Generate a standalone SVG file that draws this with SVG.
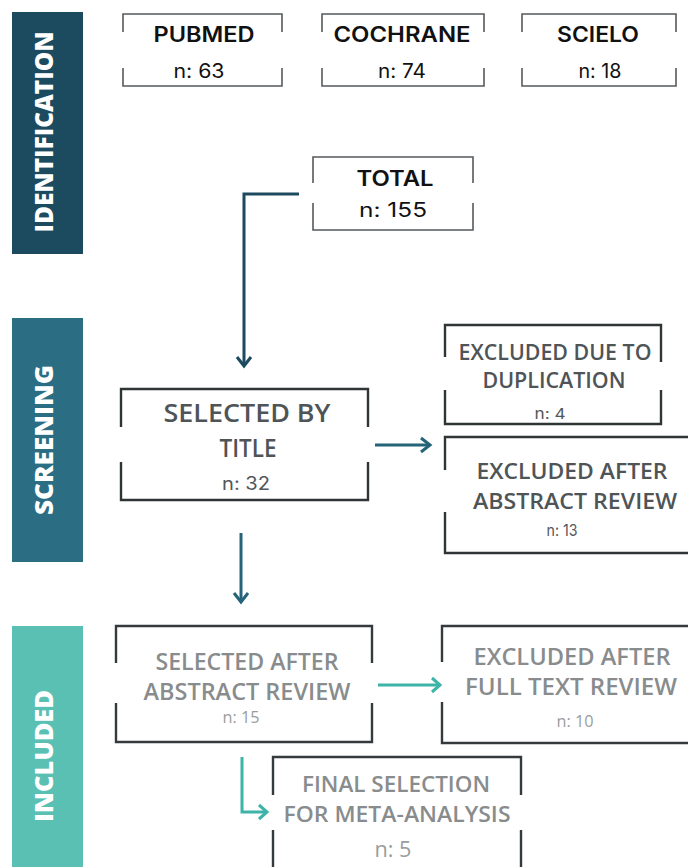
<svg xmlns="http://www.w3.org/2000/svg" width="688" height="867" viewBox="0 0 688 867">
<style>
.bar-label{font-family:"Open Sans","Noto Sans",sans-serif;font-weight:800;font-size:25px;fill:#ffffff;text-anchor:middle}
.top-box{fill:none;stroke:#555a5c;stroke-width:1.6}
.box{fill:none;stroke:#2f3436;stroke-width:2.4}
.box-inc{fill:none;stroke:#353a3c;stroke-width:2.4}
.t-top{font-family:Inter,"Noto Sans",sans-serif;font-weight:600;font-size:21px;fill:#111111;text-anchor:middle}
.n-top{font-family:Inter,"Noto Sans",sans-serif;font-weight:400;font-size:20px;fill:#111111;text-anchor:middle}
.t-scr{font-family:"Open Sans","Noto Sans",sans-serif;font-weight:600;fill:#4f5457;text-anchor:middle}
.n-scr{font-family:Inter,"Noto Sans",sans-serif;font-weight:400;fill:#52575a;text-anchor:middle}
.t-inc{font-family:"Open Sans","Noto Sans",sans-serif;font-weight:600;fill:#898c8d;text-anchor:middle}
.n-inc{font-family:"Open Sans","Noto Sans",sans-serif;font-weight:400;fill:#9a9c9d;text-anchor:middle}
.conn{fill:none;stroke-width:3;stroke-linecap:butt;stroke-linejoin:miter}
.navy{stroke:#1d4a5e}
.blue{stroke:#256478}
.teal{stroke:#3db4a7}
</style>

<g id="bar-identification">
<rect x="12" y="12" width="71" height="242" fill="#1c4a5f"/>
<text class="bar-label" transform="translate(53,132) rotate(-90)" textLength="201" lengthAdjust="spacingAndGlyphs">IDENTIFICATION</text>
</g>
<g id="bar-screening">
<rect x="12" y="318" width="71" height="244" fill="#2b6d82"/>
<text class="bar-label" transform="translate(53,440) rotate(-90)" textLength="150" lengthAdjust="spacingAndGlyphs">SCREENING</text>
</g>
<g id="bar-included">
<rect x="12" y="626" width="71" height="241" fill="#5bc0b4"/>
<text class="bar-label" transform="translate(53,756) rotate(-90)" textLength="132" lengthAdjust="spacingAndGlyphs">INCLUDED</text>
</g>

<g id="node-pubmed">
<path class="top-box" d="M123 32 V14 H282 V32 M123 68 V86 H282 V68"/>
<text class="t-top" x="204" y="42" textLength="101" lengthAdjust="spacingAndGlyphs">PUBMED</text>
<text class="n-top" x="199" y="78" textLength="51" lengthAdjust="spacingAndGlyphs">n: 63</text>
</g>
<g id="node-cochrane">
<path class="top-box" d="M322 32 V14 H484 V32 M322 68 V86 H484 V68"/>
<text class="t-top" x="402" y="42" textLength="137" lengthAdjust="spacingAndGlyphs">COCHRANE</text>
<text class="n-top" x="402" y="78" textLength="48" lengthAdjust="spacingAndGlyphs">n: 74</text>
</g>
<g id="node-scielo">
<path class="top-box" d="M522 32 V14 H676 V32 M522 68 V86 H676 V68"/>
<text class="t-top" x="598" y="42" textLength="82" lengthAdjust="spacingAndGlyphs">SCIELO</text>
<text class="n-top" x="600" y="78" textLength="43" lengthAdjust="spacingAndGlyphs">n: 18</text>
</g>
<g id="node-total">
<path class="top-box" d="M313 183 V157 H473 V183 M313 203 V230 H473 V203"/>
<text class="t-top" x="395" y="186" textLength="77" lengthAdjust="spacingAndGlyphs">TOTAL</text>
<text class="n-top" x="393" y="217" textLength="68" lengthAdjust="spacingAndGlyphs">n: 155</text>
</g>

<g id="node-selected-title">
<path class="box" d="M121 427 V389 H368 V427 M121 462 V500 H368 V462"/>
<text class="t-scr" x="247" y="422" font-size="25" textLength="167" lengthAdjust="spacingAndGlyphs">SELECTED BY</text>
<text class="t-scr" x="248" y="457" font-size="25" textLength="57" lengthAdjust="spacingAndGlyphs">TITLE</text>
<text class="n-scr" x="246" y="490" font-size="18" textLength="48" lengthAdjust="spacingAndGlyphs">n: 32</text>
</g>
<g id="node-excluded-dup">
<path class="box" d="M445 357 V325 H661 V362 M445 390 V424 H661 V390"/>
<text class="t-scr" x="555" y="360" font-size="21" textLength="193" lengthAdjust="spacingAndGlyphs">EXCLUDED DUE TO</text>
<text class="t-scr" x="554" y="388" font-size="21" textLength="143" lengthAdjust="spacingAndGlyphs">DUPLICATION</text>
<text class="n-scr" x="550" y="419" font-size="15" textLength="31" lengthAdjust="spacingAndGlyphs">n: 4</text>
</g>
<g id="node-excluded-abstract">
<path class="box" d="M445 470 V437 H690 M445 512 V553 H690"/>
<text class="t-scr" x="572" y="479" font-size="22" textLength="191" lengthAdjust="spacingAndGlyphs">EXCLUDED AFTER</text>
<text class="t-scr" x="575" y="509" font-size="22" textLength="204" lengthAdjust="spacingAndGlyphs">ABSTRACT REVIEW</text>
<text class="n-scr" x="562" y="536" font-size="16" textLength="31" lengthAdjust="spacingAndGlyphs">n: 13</text>
</g>

<g id="node-selected-abstract">
<path class="box-inc" d="M116 663 V626 H372 V663 M116 703 V742 H372 V703"/>
<text class="t-inc" x="247" y="670" font-size="24" textLength="183" lengthAdjust="spacingAndGlyphs">SELECTED AFTER</text>
<text class="t-inc" x="247" y="700" font-size="24" textLength="207" lengthAdjust="spacingAndGlyphs">ABSTRACT REVIEW</text>
<text class="n-inc" x="241" y="723" font-size="17" textLength="37" lengthAdjust="spacingAndGlyphs">n: 15</text>
</g>
<g id="node-excluded-fulltext">
<path class="box-inc" d="M442 662 V626 H690 M442 702 V743 H690"/>
<text class="t-inc" x="572" y="665" font-size="24" textLength="197" lengthAdjust="spacingAndGlyphs">EXCLUDED AFTER</text>
<text class="t-inc" x="571" y="695" font-size="24" textLength="212" lengthAdjust="spacingAndGlyphs">FULL TEXT REVIEW</text>
<text class="n-inc" x="575" y="727" font-size="17" textLength="37" lengthAdjust="spacingAndGlyphs">n: 10</text>
</g>
<g id="node-final">
<path class="box-inc" d="M273 795 V757 H521 V795 M273 830 V870 M521 830 V870"/>
<text class="t-inc" x="396" y="792" font-size="22" textLength="188" lengthAdjust="spacingAndGlyphs">FINAL SELECTION</text>
<text class="t-inc" x="397" y="822" font-size="22" textLength="227" lengthAdjust="spacingAndGlyphs">FOR META-ANALYSIS</text>
<text class="n-inc" x="393" y="857" font-size="21" textLength="37" lengthAdjust="spacingAndGlyphs">n: 5</text>
</g>

<g id="connectors">
<path class="conn navy" d="M299 194 H244 V366"/>
<path class="conn navy" d="M237 357 L244 366 L251 357"/>
<path class="conn blue" d="M375 445 H429"/>
<path class="conn blue" d="M421 438 L430 445 L421 452"/>
<path class="conn blue" d="M241 533 V601"/>
<path class="conn blue" d="M234 593 L241 602 L248 593"/>
<path class="conn teal" d="M378 685 H439"/>
<path class="conn teal" d="M432 678 L440 685 L432 692"/>
<path class="conn teal" d="M242 757 V812 H266"/>
<path class="conn teal" d="M259 805 L267 812 L259 819"/>
</g>
</svg>
